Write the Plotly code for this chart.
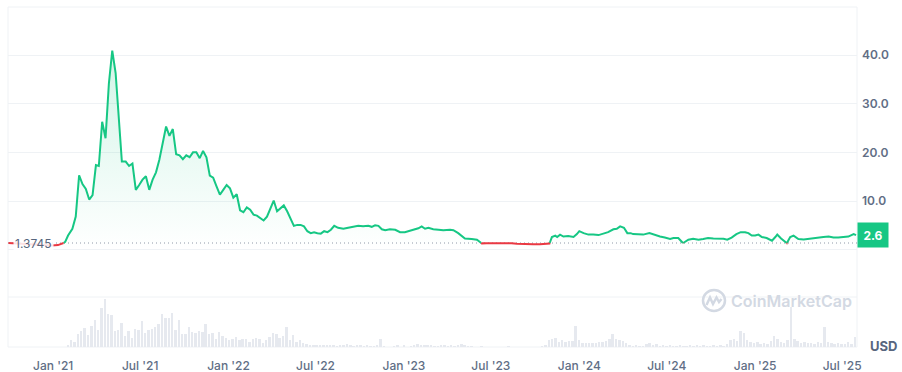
import numpy as np
import pandas as pd
import plotly.graph_objects as go

# ---------------- data ----------------
PRICE_DATES = [
    "2020-09-30", "2020-10-24", "2020-11-24", "2020-12-15", "2020-12-29", "2021-01-11", "2021-01-20",
    "2021-01-26", "2021-02-01", "2021-02-10", "2021-02-17", "2021-02-24", "2021-03-03", "2021-03-10",
    "2021-03-17", "2021-03-24", "2021-03-31", "2021-04-06", "2021-04-13", "2021-04-20", "2021-04-27",
    "2021-05-04", "2021-05-11", "2021-05-24", "2021-06-01", "2021-06-08", "2021-06-15", "2021-06-22",
    "2021-06-29", "2021-07-06", "2021-07-13", "2021-07-20", "2021-07-27", "2021-08-03", "2021-08-10",
    "2021-08-17", "2021-08-24", "2021-08-31", "2021-09-07", "2021-09-14", "2021-09-21", "2021-09-28",
    "2021-10-05", "2021-10-12", "2021-10-19", "2021-10-26", "2021-11-02", "2021-11-09", "2021-11-16",
    "2021-11-23", "2021-11-30", "2021-12-07", "2021-12-14", "2021-12-21", "2021-12-28", "2022-01-04",
    "2022-01-11", "2022-01-18", "2022-01-25", "2022-02-01", "2022-02-08", "2022-02-15", "2022-02-22",
    "2022-03-01", "2022-03-08", "2022-03-15", "2022-03-22", "2022-03-29", "2022-04-05", "2022-04-12",
    "2022-04-19", "2022-04-26", "2022-05-03", "2022-05-10", "2022-05-17", "2022-05-24", "2022-05-31",
    "2022-06-07", "2022-06-14", "2022-06-21", "2022-06-28", "2022-07-05", "2022-07-12", "2022-07-19",
    "2022-07-26", "2022-08-02", "2022-08-09", "2022-08-17", "2022-08-28", "2022-09-07", "2022-09-18",
    "2022-09-28", "2022-10-08", "2022-10-19", "2022-10-26", "2022-11-02", "2022-11-09", "2022-11-16",
    "2022-11-23", "2022-12-03", "2022-12-14", "2022-12-24", "2023-01-03", "2023-01-14", "2023-01-24",
    "2023-01-31", "2023-02-07", "2023-02-14", "2023-02-21", "2023-03-03", "2023-03-14", "2023-03-24",
    "2023-04-07", "2023-04-14", "2023-04-24", "2023-05-08", "2023-05-22", "2023-06-02", "2023-06-12",
    "2023-06-22", "2023-07-06", "2023-07-20", "2023-08-03", "2023-08-13", "2023-08-24", "2023-09-03",
    "2023-09-14", "2023-09-27", "2023-10-11", "2023-10-25", "2023-10-31", "2023-11-05", "2023-11-12",
    "2023-11-16", "2023-11-22", "2023-11-29", "2023-12-09", "2023-12-20", "2023-12-27", "2024-01-01",
    "2024-01-10", "2024-01-20", "2024-01-30", "2024-02-10", "2024-02-20", "2024-03-01", "2024-03-12",
    "2024-03-19", "2024-03-26", "2024-04-03", "2024-04-10", "2024-04-17", "2024-04-22", "2024-05-03",
    "2024-05-13", "2024-05-26", "2024-06-07", "2024-06-17", "2024-06-27", "2024-07-08", "2024-07-15",
    "2024-07-25", "2024-08-04", "2024-08-15", "2024-08-25", "2024-09-05", "2024-09-15", "2024-09-25",
    "2024-10-06", "2024-10-16", "2024-10-27", "2024-11-04", "2024-11-13", "2024-11-23", "2024-12-02",
    "2024-12-11", "2024-12-18", "2024-12-25", "2025-01-01", "2025-01-08", "2025-01-15", "2025-01-25",
    "2025-02-05", "2025-02-12", "2025-02-16", "2025-02-24", "2025-03-08", "2025-03-15", "2025-03-22",
    "2025-04-01", "2025-04-12", "2025-04-22", "2025-05-02", "2025-05-13", "2025-05-23", "2025-06-03",
    "2025-06-13", "2025-06-23", "2025-07-04", "2025-07-14", "2025-07-25", "2025-07-30",
]
PRICE_VALUES = [
    1.3745, 1.25, 1.15, 1.0, 0.85, 0.95, 1.2,
    1.6, 2.9, 4.3, 6.8, 15.3, 13.5, 12.5,
    10.3, 11.2, 17.4, 17.2, 26.3, 22.9, 34.2,
    40.9, 36.3, 18.1, 18.1, 17.2, 17.7, 12.3,
    13.3, 14.4, 15.1, 12.3, 14.4, 15.9, 18.5,
    21.9, 25.3, 23.4, 24.8, 19.6, 19.4, 18.6,
    19.4, 19.0, 20.0, 20.0, 18.8, 20.3, 19.0,
    15.2, 14.8, 13.0, 11.3, 12.3, 13.3, 12.6,
    10.7, 11.4, 8.1, 7.7, 8.7, 8.2, 7.2,
    7.0, 6.4, 6.0, 6.8, 8.4, 10.1, 7.9,
    8.6, 9.1, 7.9, 6.2, 4.9, 5.1, 5.1,
    4.8, 3.8, 3.4, 3.6, 3.4, 3.3, 3.8,
    3.6, 4.1, 4.9, 4.5, 4.3, 4.5, 4.7,
    4.9, 4.8, 4.9, 4.7, 5.0, 4.9, 4.2,
    4.0, 4.2, 4.1, 3.6, 3.6, 3.9, 4.2,
    4.4, 4.8, 4.3, 4.5, 4.2, 4.1, 4.0,
    4.1, 4.0, 3.4, 2.3, 2.2, 2.05, 1.3,
    1.33, 1.35, 1.33, 1.33, 1.3, 1.22, 1.15,
    1.1, 1.12, 1.12, 1.15, 1.25, 2.6, 2.9,
    2.6, 3.1, 2.7, 2.8, 2.6, 3.2, 3.8,
    3.4, 3.1, 3.1, 3.0, 3.3, 3.6, 4.2,
    4.3, 4.8, 4.5, 3.4, 3.4, 3.2, 3.1,
    3.1, 3.4, 3.0, 2.7, 2.5, 2.2, 2.4,
    2.4, 1.35, 2.05, 2.25, 2.05, 2.2, 2.4,
    2.3, 2.3, 2.25, 2.05, 2.5, 3.2, 3.6,
    3.6, 3.4, 2.9, 2.9, 3.1, 2.6, 2.4,
    1.85, 2.6, 3.1, 2.3, 1.35, 2.6, 2.9,
    2.2, 2.1, 2.25, 2.4, 2.6, 2.6, 2.7,
    2.5, 2.5, 2.6, 2.7, 3.2, 3.0,
]
BASE_PRICE = 1.3745
BASE_LABEL = "1.3745"
CURRENT_PRICE_LABEL = "2.6"

VOLUME_START = "2021-02-01"   # weekly bars
VOLUME_VALUES = [
    5, 20, 16, 38, 48, 56, 35, 62, 80, 51, 116, 143, 98, 96, 48, 50, 71, 33, 48, 28,
    53, 51, 78, 43, 50, 55, 61, 68, 98, 86, 86, 101, 50, 80, 38, 38, 60, 45, 41, 47,
    45, 68, 38, 41, 23, 46, 33, 26, 20, 25, 30, 22, 25, 25, 15, 23, 26, 25, 13, 20,
    30, 43, 40, 28, 32, 60, 20, 35, 15, 20,
    12, 10, 7, 6, 5, 6, 4, 5, 6, 4, 3, 4, 4, 10, 4, 3, 4, 4, 3, 4,
    2, 2, 5, 24, 3, 0, 0, 2, 6, 0, 6, 0, 2, 5, 8, 6, 6, 6, 6, 2,
    3, 5, 5, 3, 5,
    3, 6, 10, 4, 2, 2, 0, 0, 2, 0, 0, 0, 0, 0, 0, 0, 3, 0, 0, 0,
    0, 0, 0, 0, 0, 0, 2, 5, 20, 25, 28, 15, 22, 15, 17, 18, 62, 20, 13, 12,
    12, 12, 13, 15, 15, 17, 23, 40, 23, 20, 18, 12, 5, 3, 7, 3, 3, 10, 13, 4,
    10, 3, 7, 3, 5, 3, 2, 5, 3, 2, 5, 3, 7, 3, 5, 3, 3, 5, 3, 7,
    3, 10, 20, 25, 17, 47, 43, 20, 15, 13, 15, 10, 13, 10, 17, 32, 25, 15, 13, 20,
    120, 23, 17, 13, 15, 12, 13, 10, 15, 12, 60, 15, 13, 10, 12, 10, 10, 15, 10, 30,
]

Y_TICKS = [0, 10, 20, 30, 40]
Y_TICK_TEXT = ["", "10.0", "20.0", "30.0", "40.0"]

# ---------------- styling ----------------
GREEN = "#16c784"
RED = "#ea3943"
GRID = "#eff2f5"
TEXT = "#616e85"
FONT = "Inter"

# split the price line into above / below baseline parts
t = pd.to_datetime(PRICE_DATES)
ts = (t - pd.Timestamp("1970-01-01")) // pd.Timedelta("1ms")
ts = np.asarray(ts, dtype=float)
v = np.asarray(PRICE_VALUES, dtype=float)
gx, gy, rx, ry = [], [], [], []
for i in range(len(v)):
    if i > 0:
        a, b = v[i - 1] - BASE_PRICE, v[i] - BASE_PRICE
        if a * b < 0 or (a == 0 and b != 0):
            f = a / (a - b)
            tc = ts[i - 1] + f * (ts[i] - ts[i - 1])
            gx.append(tc); gy.append(BASE_PRICE)
            rx.append(tc); ry.append(BASE_PRICE)
            if b < 0:
                gx.append(None); gy.append(None)
            else:
                rx.append(None); ry.append(None)
    if v[i] >= BASE_PRICE:
        gx.append(ts[i]); gy.append(v[i])
    else:
        rx.append(ts[i]); ry.append(v[i])


def to_dt(lst):
    return [None if x is None else pd.Timestamp(x, unit="ms") for x in lst]


fig = go.Figure()

# volume bars
vol_dates = pd.date_range(VOLUME_START, periods=len(VOLUME_VALUES), freq="7D")
fig.add_trace(go.Bar(
    x=vol_dates, y=VOLUME_VALUES, xaxis="x", yaxis="y2",
    marker=dict(color="#e6e9ef", line=dict(width=0)),
    width=4 * 86400000, hoverinfo="skip", showlegend=False,
))

# gradient area
fig.add_trace(go.Scatter(
    x=t, y=PRICE_VALUES, mode="lines", line=dict(width=0),
    fill="tozeroy",
    fillgradient=dict(type="vertical",
                      colorscale=[[0, "rgba(22,199,132,0.0)"], [1, "rgba(22,199,132,0.19)"]]),
    hoverinfo="skip", showlegend=False,
))

fig.add_trace(go.Scatter(x=to_dt(gx), y=gy, mode="lines",
                         line=dict(color=GREEN, width=2), showlegend=False, connectgaps=False))
fig.add_trace(go.Scatter(x=to_dt(rx), y=ry, mode="lines",
                         line=dict(color=RED, width=2), showlegend=False, connectgaps=False))

VOL_FRAC = 50 / 340

fig.update_layout(
    template="none",
    width=902, height=372,
    margin=dict(l=8, r=45, t=7, b=25, autoexpand=False),
    paper_bgcolor="white", plot_bgcolor="white",
    font=dict(family=FONT, color=TEXT, size=12),
    showlegend=False,
    bargap=0,
    xaxis=dict(
        domain=[0, 1], anchor="y2", type="date",
        range=["2020-09-29", "2025-08-01"],
        tick0="2021-01-01", dtick="M6", tickformat="%b '%y",
        showgrid=False, zeroline=False, showline=False, ticks="", ticklen=0,
        tickfont=dict(family=FONT, size=12, color=TEXT, weight=500),
        ticklabelstandoff=10, automargin=False,
    ),
    yaxis=dict(
        domain=[VOL_FRAC, 1], anchor="x", side="right",
        range=[-9.72, 49.87],
        tickvals=Y_TICKS, ticktext=Y_TICK_TEXT,
        showgrid=True, gridcolor=GRID, gridwidth=1, zeroline=False, showline=False,
        ticks="", tickfont=dict(family=FONT, size=12, color=TEXT, weight=600),
        ticklabelstandoff=4, automargin=False,
    ),
    yaxis2=dict(
        domain=[0, VOL_FRAC], anchor="x", range=[0, 150],
        showgrid=False, zeroline=False, showline=False, showticklabels=False,
        automargin=False,
    ),
)

shapes = [
    # frame
    dict(type="rect", xref="paper", yref="paper", x0=0, x1=1, y0=0, y1=1,
         line=dict(color=GRID, width=1), layer="below"),
    dict(type="line", xref="paper", yref="paper", x0=0, x1=1, y0=VOL_FRAC, y1=VOL_FRAC,
         line=dict(color=GRID, width=1), layer="below"),
    # dotted baseline
    dict(type="line", xref="paper", yref="y", x0=0, x1=1, y0=BASE_PRICE, y1=BASE_PRICE,
         line=dict(color="#8f98a8", width=1, dash="1px,3px"), layer="below"),
]

# CoinMarketCap watermark logo
def px(X):
    return (X - 8) / 849


def py(Y):
    return (347 - Y) / 340


WM = "#d3d9e3"
shapes.append(dict(type="circle", xref="paper", yref="paper",
                   x0=px(703), x1=px(725), y0=py(311), y1=py(290),
                   line=dict(color=WM, width=2.5)))
wave = [(706.5, 305), (710, 297.5), (713, 304), (716.5, 297.5), (719, 302), (721.5, 299)]
path = "M " + " L ".join(f"{px(a):.5f},{py(b):.5f}" for a, b in wave)
shapes.append(dict(type="path", xref="paper", yref="paper", path=path,
                   line=dict(color=WM, width=2.5)))
fig.update_layout(shapes=shapes)

annotations = [
    dict(xref="paper", yref="paper", x=px(729), y=py(301), xanchor="left", yanchor="middle",
         text="CoinMarketCap", showarrow=False,
         font=dict(family=FONT, size=16, color=WM, weight=600)),
    dict(xref="paper", yref="y", x=px(13), y=BASE_PRICE, xanchor="left", yanchor="middle",
         text=BASE_LABEL, showarrow=False, bgcolor="rgba(255,255,255,0.85)", borderpad=1,
         font=dict(family=FONT, size=12, color="#58667e")),
    dict(xref="paper", yref="y", x=1, y=PRICE_VALUES[-1], xanchor="left", yanchor="middle",
         text=f"<b>{CURRENT_PRICE_LABEL}</b>", showarrow=False, bgcolor=GREEN,
         width=26, height=20, borderpad=2, align="center",
         font=dict(family=FONT, size=12, color="white")),
    dict(xref="paper", yref="paper", x=px(883), y=py(346), xanchor="center", yanchor="middle",
         text="<b>USD</b>", showarrow=False,
         font=dict(family=FONT, size=13, color="#58667e")),
]
fig.update_layout(annotations=annotations)

fig.write_html(
    "out.html",
    config={"displayModeBar": False},
    post_script="document.body.style.margin='0';document.body.style.overflow='hidden';",
)
